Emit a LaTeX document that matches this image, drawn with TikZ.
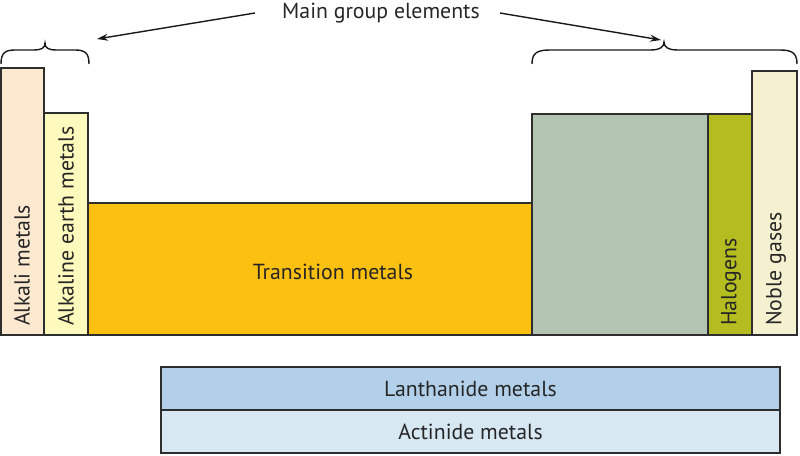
\documentclass[tikz,border=0pt]{standalone}
\usepackage{fontspec}
\setmainfont{PT Sans}
\usetikzlibrary{arrows.meta}
\definecolor{edge}{HTML}{2E2E2E}
\definecolor{calk}{HTML}{FDE9D0}
\definecolor{cae}{HTML}{FEF9BC}
\definecolor{ctr}{HTML}{FCC011}
\definecolor{cgg}{HTML}{B4C4B2}
\definecolor{chal}{HTML}{B4BC1F}
\definecolor{cnob}{HTML}{F5F0CF}
\definecolor{clan}{HTML}{B3D0EA}
\definecolor{cact}{HTML}{D7E8F3}
\tikzset{
  blk/.style={draw=edge, line width=1.5pt, anchor=south west, inner sep=0pt, outer sep=0pt},
  lbl/.style={font=\fontsize{21.8}{24}\selectfont, text=black!85, inner sep=0pt},
  vlbl/.style={lbl, rotate=90, anchor=west},
  brace/.style={line width=1.4pt, draw=black!90},
  pointer/.style={line width=1.4pt, draw=black!90, -{Stealth[length=11pt,width=7pt]}}
}
\begin{document}
\begin{tikzpicture}[x=1pt,y=-1pt]
\useasboundingbox (0,0) rectangle (800,455);
% blocks
\node[blk, fill=calk, minimum width=43pt, minimum height=267pt] (alk) at (1,335) {};
\node[blk, fill=cae, minimum width=44pt, minimum height=222pt] (ae) at (44,335) {};
\node[blk, fill=ctr, minimum width=444pt, minimum height=132pt] (tr) at (88,335) {};
\node[blk, fill=cgg, minimum width=176pt, minimum height=221pt] (gg) at (532,335) {};
\node[blk, fill=chal, minimum width=44pt, minimum height=221pt] (hal) at (708,335) {};
\node[blk, fill=cnob, minimum width=45pt, minimum height=264pt] (nob) at (752,335) {};
\node[blk, fill=clan, minimum width=619pt, minimum height=43pt] (lan) at (161,410) {};
\node[blk, fill=cact, minimum width=619pt, minimum height=43pt] (act) at (161,453) {};
% labels
\node[vlbl] (talk) at (22,326) {Alkali metals};
\node[vlbl] (tae) at (66,326) {Alkaline earth metals};
\node[vlbl] (thal) at (731,326) {Halogens};
\node[vlbl] (tnob) at (776,326) {Noble gases};
\node[lbl] (ttr) at (333,272) {Transition metals};
\node[lbl] (tlan) at (lan.center) {Lanthanide metals};
\node[lbl] (tact) at (act.center) {Actinide metals};
\node[lbl] (title) at (381,13) {Main group elements};
% braces
\coordinate (lt) at (45,43);
\coordinate (rt) at (664,42);
\draw[brace] (1,64) .. controls (1,53) and (5,50) .. (15,50) -- (33,50)
  .. controls (42,50) and (45,48) .. (lt) .. controls (45,48) and (48,50) .. (57,50)
  -- (75,50) .. controls (85,50) and (89,53) .. (89,64);
\draw[brace] (532,64) .. controls (532,53) and (537,50) .. (550,50) -- (650,50)
  .. controls (660,50) and (664,47) .. (rt) .. controls (664,47) and (668,50) .. (678,50)
  -- (780,50) .. controls (792,50) and (797,53) .. (797,64);
% pointers
\coordinate (ls) at (255,13);
\coordinate (rs) at (500,13);
\coordinate (le) at (97,39);
\coordinate (re) at (661,40);
\draw[pointer] (ls) -- (le);
\draw[pointer] (rs) -- (re);
\end{tikzpicture}
\end{document}
